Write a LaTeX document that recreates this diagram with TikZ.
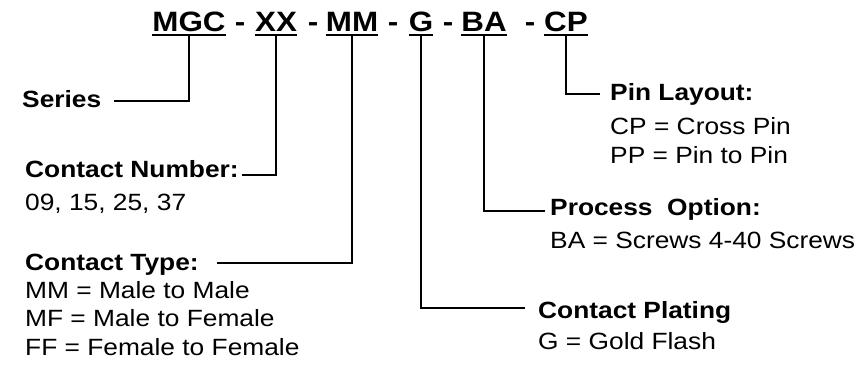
\documentclass[tikz,border=0pt]{standalone}
\usepackage{fontspec}
\setmainfont{Liberation Sans}[FakeStretch=1.12]
\tikzset{
  code/.style={font=\fontsize{28}{32}\selectfont\bfseries, inner xsep=0pt, inner ysep=3.5pt, text depth=0pt, anchor=base},
  head/.style={font=\fontsize{23.5}{29}\selectfont\bfseries, inner sep=0pt, anchor=base west},
  body/.style={font=\fontsize{23.5}{28.5}\selectfont, inner sep=0pt, anchor=base west, align=left},
  link/.style={line width=1.6pt}
}
\begin{document}
\begin{tikzpicture}[x=1pt,y=-1pt]
\useasboundingbox (0,0) rectangle (858,372);
\foreach \n/\x/\t in {mgc/189/MGC,xx/276/XX,mm/352/MM,g/421/G,ba/484/BA,cp/566/CP} % part number
\node[code] (\n) at (\x,31) {\t};
\foreach \n/\x in {1/240,2/313,3/393,4/448,5/530} % dashes
\node[code] (d\n) at (\x,31) {-};
\foreach \n in {mgc,xx,mm,g,ba,cp}
\draw[link] (\n.south west) -- (\n.south east);
% left side (multi-line text sits on its last baseline)
\node[head] (series) at (22,107) {Series};
\node[head] (cnum) at (25,177) {Contact Number:};
\node[body] (cnumtxt) at (25,210) {09, 15, 25, 37};
\node[head] (ctype) at (25,270) {Contact Type:};
\node[body] (ctypetxt) at (25,355) {MM = Male to Male\\MF = Male to Female\\FF = Female to Female};
% right side
\node[head] (pin) at (610,100) {Pin Layout:};
\node[body] (pintxt) at (610,163) {CP = Cross Pin\\PP = Pin to Pin};
\node[head] (proc) at (550,215) {Process\ \ Option:};
\node[body] (proctxt) at (550,248) {BA = Screws 4-40 Screws};
\node[head] (plate) at (538,318) {Contact Plating};
\node[body] (platetxt) at (538,349) {G = Gold Flash};
% connectors
\draw[link] (mgc.south) |- ([xshift=13pt,yshift=6pt]series.base east);
\draw[link] (xx.south) |- ([xshift=3pt,yshift=2pt]cnum.base east);
\draw[link] (mm.south) |- ([xshift=18pt,yshift=7pt]ctype.base east);
\draw[link] (cp.south) |- ([xshift=-10pt,yshift=6pt]pin.base west);
\draw[link] (ba.south) |- ([xshift=-5pt,yshift=4pt]proc.base west);
\draw[link] (g.south) |- ([xshift=-13pt,yshift=10pt]plate.base west);
\end{tikzpicture}
\end{document}
